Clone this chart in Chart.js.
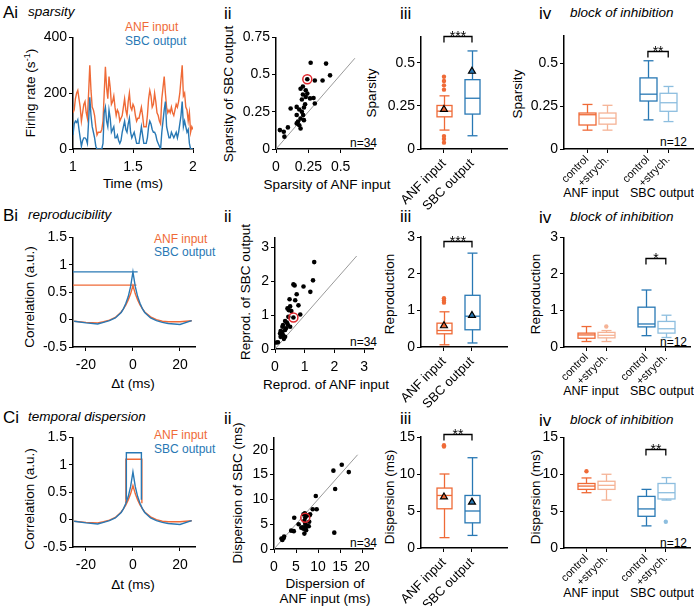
<!DOCTYPE html>
<html>
<head>
<meta charset="utf-8">
<script src="https://cdn.jsdelivr.net/npm/chart.js@4/dist/chart.umd.min.js"></script>
<style>
  body { margin: 0; background: #fff; width: 694px; height: 608px; position: relative; overflow: hidden;
         font-family: 'Liberation Sans', Arial, sans-serif; color: #000; }
  canvas { position: absolute; }
  .t { position: absolute; white-space: nowrap; line-height: 1; transform: translateY(-50%); }
  .c { transform: translate(-50%, -50%); }
  .yt { position: absolute; white-space: nowrap; line-height: 1; font-size: 13.5px; transform: translate(-50%, -50%) rotate(-90deg); }
  .xt { position: absolute; white-space: nowrap; line-height: 1; font-size: 13.5px; transform: translate(-50%, -50%); }
  .big { font-size: 17px; }
  .it { font-size: 13.5px; font-style: italic; }
  .lg { font-size: 12px; }
  .n { font-size: 12px; }
  .grp { font-size: 12.5px; }
  sup { font-size: 9px; vertical-align: 5px; }
</style>
</head>
<body>
<!-- panel headers -->
<div class="t big" style="left:3px;top:12px">Ai</div><div class="t it" style="left:28px;top:12px">sparsity</div>
<div class="t big" style="left:224px;top:13px">ii</div>
<div class="t big" style="left:400px;top:13px">iii</div>
<div class="t big" style="left:539px;top:13px">iv</div><div class="t it" style="left:570px;top:13px">block of inhibition</div>

<div class="t big" style="left:3px;top:215px">Bi</div><div class="t it" style="left:28px;top:215px">reproducibility</div>
<div class="t big" style="left:224px;top:216px">ii</div>
<div class="t big" style="left:400px;top:216px">iii</div>
<div class="t big" style="left:539px;top:217px">iv</div><div class="t it" style="left:570px;top:217px">block of inhibition</div>

<div class="t big" style="left:3px;top:417px">Ci</div><div class="t it" style="left:28px;top:417px">temporal dispersion</div>
<div class="t big" style="left:224px;top:418px">ii</div>
<div class="t big" style="left:400px;top:418px">iii</div>
<div class="t big" style="left:539px;top:420px">iv</div><div class="t it" style="left:570px;top:420px">block of inhibition</div>

<!-- axis titles -->
<div class="yt" style="left:30px;top:93px">Firing rate (s<sup>-1</sup>)</div>
<div class="xt" style="left:133px;top:184px">Time (ms)</div>
<div class="yt" style="left:229px;top:94px">Sparsity of SBC output</div>
<div class="xt" style="left:327px;top:185px">Sparsity of ANF input</div>
<div class="yt" style="left:372px;top:93px">Sparsity</div>
<div class="yt" style="left:518px;top:94px">Sparsity</div>

<div class="yt" style="left:30px;top:297px">Correlation (a.u.)</div>
<div class="xt" style="left:133px;top:384px">&Delta;t (ms)</div>
<div class="yt" style="left:246px;top:292px">Reprod. of SBC output</div>
<div class="xt" style="left:326px;top:385px">Reprod. of ANF input</div>
<div class="yt" style="left:390px;top:294px">Reproduction</div>
<div class="yt" style="left:536px;top:294px">Reproduction</div>

<div class="yt" style="left:30px;top:499px">Correlation (a.u.)</div>
<div class="xt" style="left:133px;top:585px">&Delta;t (ms)</div>
<div class="yt" style="left:238px;top:493px">Dispersion of SBC (ms)</div>
<div class="xt" style="left:325px;top:584px">Dispersion of</div>
<div class="xt" style="left:325px;top:599px">ANF input (ms)</div>
<div class="yt" style="left:390px;top:497px">Dispersion (ms)</div>
<div class="yt" style="left:536px;top:497px">Dispersion (ms)</div>

<!-- legends -->
<div class="t lg" style="left:125px;top:27px;color:#EF6A37">ANF input</div>
<div class="t lg" style="left:125px;top:41px;color:#2878B4">SBC output</div>
<div class="t lg" style="left:154px;top:239px;color:#EF6A37">ANF input</div>
<div class="t lg" style="left:154px;top:252px;color:#2878B4">SBC output</div>
<div class="t lg" style="left:154px;top:435px;color:#EF6A37">ANF input</div>
<div class="t lg" style="left:154px;top:449px;color:#2878B4">SBC output</div>

<!-- n labels -->
<div class="t n" style="left:350px;top:143px">n=34</div>
<div class="t n" style="left:350px;top:342px">n=34</div>
<div class="t n" style="left:350px;top:543px">n=34</div>
<div class="t n" style="left:660px;top:142px">n=12</div>
<div class="t n" style="left:660px;top:342px">n=12</div>
<div class="t n" style="left:660px;top:543px">n=12</div>

<!-- group labels -->
<div class="t c grp" style="left:591px;top:193px">ANF input</div>
<div class="t c grp" style="left:662px;top:193px">SBC output</div>
<div class="t c grp" style="left:591px;top:391px">ANF input</div>
<div class="t c grp" style="left:662px;top:391px">SBC output</div>
<div class="t c grp" style="left:591px;top:593px">ANF input</div>
<div class="t c grp" style="left:662px;top:593px">SBC output</div>

<script>
// ---------- data ----------
// Ai: firing rate traces
const aiTime = [1.00,1.01,1.02,1.03,1.04,1.05,1.06,1.07,1.08,1.09,
  1.10,1.11,1.12,1.13,1.14,1.15,1.16,1.17,1.18,1.19,
  1.20,1.21,1.22,1.23,1.24,1.25,1.26,1.27,1.28,1.29,
  1.30,1.31,1.32,1.33,1.34,1.35,1.36,1.37,1.38,1.39,
  1.40,1.41,1.42,1.43,1.44,1.45,1.46,1.47,1.48,1.49,
  1.50,1.51,1.52,1.53,1.54,1.55,1.56,1.57,1.58,1.59,
  1.60,1.61,1.62,1.63,1.64,1.65,1.66,1.67,1.68,1.69,
  1.70,1.71,1.72,1.73,1.74,1.75,1.76,1.77,1.78,1.79,
  1.80,1.81,1.82,1.83,1.84,1.85,1.86,1.87,1.88,1.89,
  1.90,1.91,1.92,1.93,1.94,1.95,1.96,1.97,1.98,1.99,2.00];
const aiAnf = [130,140,180,200,210,180,150,100,130,160,
  170,130,110,200,300,210,150,140,120,80,
  50,60,60,60,70,100,200,295,220,180,
  260,220,160,170,190,150,120,140,130,100,
  110,120,150,180,140,120,170,200,150,140,
  160,150,120,100,110,110,130,150,120,80,
  80,80,120,180,210,190,150,160,200,170,
  130,120,100,90,180,220,260,200,150,130,
  140,130,150,130,120,140,160,150,170,200,
  250,300,190,200,150,140,100,130,60,80,70];
const aiSbc = [50,90,100,95,105,70,40,10,30,40,
  40,35,20,100,185,120,80,60,40,10,
  0,0,0,0,0,20,130,150,100,80,
  140,110,60,70,80,40,40,50,30,20,
  30,60,80,100,70,60,90,110,60,40,
  50,60,40,20,20,20,50,80,50,20,
  20,20,40,80,100,90,70,60,60,50,
  30,20,10,0,60,100,140,170,80,60,
  40,40,60,50,40,50,60,40,60,90,
  120,170,80,100,80,60,70,20,0,0,0];
const aiAnfMean = 110;
const aiSbcMean = 39;
const aiXTicks = [1, 1.5, 2];
const aiYTicks = [0, 200, 400];

// Aii: sparsity scatter
const aiiAnf = [0.268,0.387,0.418,0.30,0.36,0.242,0.208,0.19,0.23,0.242,0.208,0.23,0.263,0.29,0.20,0.30,0.113,
  0.16,0.18,0.216,0.20,0.16,0.21,0.19,0.216,0.16,0.18,0.19,0.092,0.03,0.06,0.065,0.17,0.225];
const aiiSbc = [0.58,0.574,0.495,0.46,0.46,0.469,0.42,0.405,0.395,0.373,0.366,0.35,0.34,0.343,0.333,0.306,0.272,
  0.283,0.265,0.279,0.25,0.228,0.228,0.205,0.194,0.172,0.16,0.138,0.145,0.127,0.116,0.083,0.185,0.30];
const aiiHighlight = [0.242, 0.469];
const aiiXTicks = [0, 0.25, 0.5];
const aiiYTicks = [0, 0.25, 0.5, 0.75];

// Aiii / Aiv: sparsity box plots
const cat2 = ['ANF input', 'SBC output'];
const cat4 = ['control', '+strych.', 'control', '+strych.'];
const aiiiLow = [0.11, 0.077], aiiiQ1 = [0.187, 0.203], aiiiMed = [0.22, 0.295], aiiiQ3 = [0.253, 0.403], aiiiHigh = [0.309, 0.57];
const aiiiMean = [0.23, 0.452];
const aiiiAnfOut = [0.42, 0.395, 0.37, 0.345, 0.075, 0.058, 0.037];
const aiiiTicks = [0, 0.25, 0.5];
const aivLow = [0.11, 0.11, 0.17, 0.16], aivQ1 = [0.14, 0.145, 0.28, 0.22], aivMed = [0.2, 0.18, 0.32, 0.27];
const aivQ3 = [0.21, 0.21, 0.415, 0.325], aivHigh = [0.26, 0.255, 0.515, 0.365];

// Bi / Ci: correlograms
const lags = [-25,-20,-15,-12.5,-10,-7.5,-5,-4,-3,-2,-1,0,1,2,3,4,5,7.5,10,12.5,15,20,25];
const corrAnf = [-0.03,-0.05,-0.06,-0.04,-0.01,0.04,0.14,0.2,0.27,0.36,0.47,0.62,0.47,0.36,0.27,0.2,0.14,0.05,0.0,-0.03,-0.04,-0.04,-0.02];
const corrSbc = [-0.03,-0.06,-0.08,-0.05,-0.02,0.03,0.13,0.2,0.3,0.42,0.6,0.87,0.6,0.42,0.3,0.2,0.13,0.03,-0.02,-0.05,-0.07,-0.09,-0.02];
const biAnfPeak = 0.63, biSbcPeak = 0.87;
const ciAnfRectX = [-3.0, -3.0, 3.8, 3.8], ciAnfRectY = [0.3, 1.1, 1.1, 0.3];
const ciSbcRectX = [-2.8, -2.8, 3.6, 3.6], ciSbcRectY = [0.36, 1.22, 1.22, 0.36];
const lagTicks = [-20, 0, 20];
const corrTicks = [-0.5, 0, 0.5, 1, 1.5];

// Bii: reproducibility scatter
const biiAnf = [1.32,1.28,1.19,0.96,0.62,0.66,0.73,0.49,0.68,0.79,0.51,0.42,0.46,0.85,0.62,0.45,0.34,
  0.40,0.27,0.25,0.37,0.19,0.25,0.34,0.17,0.27,0.34,0.19,0.05,0.10,0.51,0.30,0.55,0.43];
const biiSbc = [2.57,2.03,1.69,1.85,1.91,1.88,1.62,1.47,1.44,1.29,1.26,1.20,1.15,1.02,0.93,0.95,0.83,
  0.78,0.71,0.66,0.61,0.53,0.51,0.56,0.46,0.41,0.36,0.36,0.19,0.20,0.66,0.30,1.12,0.72];
const biiHighlight = [0.62, 0.93];
const biiTicks = [0, 1, 2, 3];

// Biii / Biv: reproduction box plots
const biiiLow = [0.06, 0.11], biiiQ1 = [0.36, 0.47], biiiMed = [0.45, 0.84], biiiQ3 = [0.65, 1.41], biiiHigh = [0.96, 2.56];
const biiiMean = [0.58, 0.86];
const biiiAnfOut = [1.33, 1.27, 1.21];
const bivLow = [0.15, 0.15, 0.31, 0.26], bivQ1 = [0.24, 0.25, 0.55, 0.38], bivMed = [0.33, 0.32, 0.63, 0.5];
const bivQ3 = [0.38, 0.40, 1.09, 0.70], bivHigh = [0.56, 0.45, 1.56, 0.87];
const bivStrychAnfOut = [0.56];

// Cii: dispersion scatter
const ciiAnf = [13.5,15.4,17.0,13.9,9.5,8.8,9.7,6.7,7.4,8.1,7.1,4.6,5.6,4.5,3.9,6.2,6.7,7.3,7.6,7.9,6.9,7.3,7.1,
  1.7,2.3,1.9,13.7,6.9,8.0,2.2,7.4,6.6,8.2,7.0];
const ciiSbc = [15.8,17.0,15.5,12.1,10.7,8.0,8.0,7.0,6.7,6.8,6.3,6.3,5.0,3.6,3.7,4.3,4.1,4.5,4.7,4.6,3.1,3.8,5.1,
  2.1,2.5,1.8,3.3,5.7,5.5,2.2,6.8,4.4,7.0,7.2];
const ciiHighlight = [7.1, 6.3];
const ciiTicks = [0, 5, 10, 15, 20];

// Ciii / Civ: dispersion box plots
const ciiiLow = [1.4, 1.7], ciiiQ1 = [5.3, 3.4], ciiiMed = [7.1, 5.0], ciiiQ3 = [8.1, 7.1], ciiiHigh = [10.0, 12.2];
const ciiiMean = [6.9, 6.2];
const ciiiAnfOut = [13.9, 13.7];
const civLow = [7.5, 6.5, 3.0, 6.5], civQ1 = [7.95, 7.95, 4.3, 6.65], civMed = [8.4, 8.5, 5.3, 7.5];
const civQ3 = [8.75, 9.05, 7.0, 8.75], civHigh = [9.5, 10.0, 7.95, 9.55];
const civControlAnfOut = [10.4];
const civStrychSbcOut = [3.55];
const dispTicks = [0, 5, 10, 15];

const pos2 = [1, 2];
const pos4 = [1, 2, 4, 5];

// ---------- style ----------
const FONT = "'Liberation Sans', Arial, sans-serif";
const ORANGE = '#EF6A37', BLUE = '#2878B4', LORANGE = '#F5B396', LBLUE = '#8DBEDF';
Chart.defaults.font.family = FONT;
Chart.defaults.color = '#000';

// box plot drawing through the chart scales
const boxPlugin = {
  id: 'boxes',
  beforeDatasetsDraw(chart, args, o) {
    if (!o.items) return;
    const { ctx, scales: { x, y } } = chart;
    ctx.save();
    ctx.lineWidth = 1.3;
    const seg = (x1, y1, x2, y2) => { ctx.beginPath(); ctx.moveTo(x1, y1); ctx.lineTo(x2, y2); ctx.stroke(); };
    o.items.forEach(b => {
      const px = Math.round(x.getPixelForValue(b.x)) + 0.5;
      const hw = o.boxWidth / 2, cw = o.capWidth / 2;
      const lo = y.getPixelForValue(b.lo), q1 = y.getPixelForValue(b.q1), md = y.getPixelForValue(b.med);
      const q3 = y.getPixelForValue(b.q3), hi = y.getPixelForValue(b.hi);
      ctx.strokeStyle = b.color;
      ctx.strokeRect(px - hw, q3, 2 * hw, q1 - q3);
      seg(px - hw, md, px + hw, md);
      seg(px, q3, px, hi); seg(px - cw, hi, px + cw, hi);
      seg(px, q1, px, lo); seg(px - cw, lo, px + cw, lo);
    });
    ctx.restore();
  }
};
// significance bracket
const sigPlugin = {
  id: 'sig',
  afterDraw(chart, args, o) {
    if (!o.text) return;
    const { ctx, scales: { x, y } } = chart;
    const x1 = x.getPixelForValue(o.x1), x2 = x.getPixelForValue(o.x2), y0 = Math.round(y.getPixelForValue(o.y)) + 0.5;
    ctx.save();
    ctx.strokeStyle = '#000'; ctx.lineWidth = 1.3;
    ctx.beginPath(); ctx.moveTo(x1, y0 + 6); ctx.lineTo(x1, y0); ctx.lineTo(x2, y0); ctx.lineTo(x2, y0 + 6); ctx.stroke();
    ctx.fillStyle = '#000'; ctx.font = '14px ' + FONT; ctx.textAlign = 'center'; ctx.textBaseline = 'alphabetic';
    ctx.fillText(o.text, (x1 + x2) / 2, y0 + 4);
    ctx.restore();
  }
};
Chart.register(boxPlugin, sigPlugin);

function axis(min, max, ticks, o = {}) {
  return {
    type: 'linear', min, max,
    afterBuildTicks: s => { s.ticks = ticks.map(v => ({ value: v })); },
    border: { display: true, color: '#000', width: 1.5 },
    grid: { display: true, drawOnChartArea: false, drawTicks: true, tickLength: 4, color: '#000', lineWidth: 1 },
    ticks: {
      color: '#000', font: { size: o.size || 14 }, padding: o.pad === undefined ? 2 : o.pad, autoSkip: false,
      maxRotation: o.rot || 0, minRotation: o.rot || 0,
      callback: o.labels ? (v => o.labels[ticks.indexOf(v)]) : (v => String(v))
    },
    title: { display: false }
  };
}

function mk(plot, yW, xH, padT, padR, config) {
  const cv = document.createElement('canvas');
  const w = yW + plot.r - plot.l + padR, h = padT + plot.b - plot.t + xH;
  cv.width = w; cv.height = h;
  cv.style.left = (plot.l - yW) + 'px';
  cv.style.top = (plot.t - padT) + 'px';
  document.body.appendChild(cv);
  config.options.scales.y.afterFit = s => { s.width = yW; };
  config.options.scales.x.afterFit = s => { s.height = xH; };
  config.options.responsive = false;
  config.options.animation = false;
  config.options.layout = { padding: { top: padT, right: padR, left: 0, bottom: 0 } };
  config.options.plugins = Object.assign({ legend: { display: false }, tooltip: { enabled: false } }, config.options.plugins || {});
  return new Chart(cv, config);
}

const pts = (xs, ys) => xs.map((v, i) => ({ x: v, y: ys[i] }));
const lineDs = (data, color, w) => ({ data, showLine: true, borderColor: color, borderWidth: w || 1.4, pointRadius: 0, fill: false });
const dotDs = (data) => ({ data, pointRadius: 2.3, pointBackgroundColor: '#000', pointBorderWidth: 0 });
const ringDs = (p) => ({ data: [{ x: p[0], y: p[1] }], pointRadius: 4.5, pointBackgroundColor: 'rgba(0,0,0,0)', pointBorderColor: '#E0282E', pointBorderWidth: 1.5 });
const diagDs = (end) => ({ data: [{ x: 0, y: 0 }, { x: end, y: end }], showLine: true, borderColor: '#9a9a9a', borderWidth: 1, pointRadius: 0 });
const outDs = (xv, vals, color) => ({ data: vals.map(v => ({ x: xv, y: v })), pointRadius: 2.2, pointBackgroundColor: color, pointBorderWidth: 0 });
const meanDs = (xv, v, color) => ({ data: [{ x: xv, y: v }], pointStyle: 'triangle', pointRadius: 4, pointBackgroundColor: color, pointBorderColor: '#000', pointBorderWidth: 1.2 });
const boxItems = (xs, lo, q1, md, q3, hi, colors) => xs.map((x, i) => ({ x, lo: lo[i], q1: q1[i], med: md[i], q3: q3[i], hi: hi[i], color: colors[i] }));

// ---------- Row A ----------
mk({ l: 73, r: 193, t: 37, b: 149 }, 51, 26, 10, 14, {
  type: 'scatter',
  data: { datasets: [
    lineDs(pts(aiTime, aiSbc), BLUE, 1.4),
    lineDs(pts(aiTime, aiAnf), ORANGE, 1.4),
    { data: [{ x: 2.06, y: aiAnfMean }], pointStyle: 'line', pointRadius: 3.5, pointBorderColor: ORANGE, pointBorderWidth: 3, clip: false },
    { data: [{ x: 2.06, y: aiSbcMean }], pointStyle: 'line', pointRadius: 3.5, pointBorderColor: BLUE, pointBorderWidth: 3, clip: false }
  ] },
  options: { scales: {
    x: axis(1, 2, aiXTicks, { pad: 6 }),
    y: axis(0, 400, aiYTicks)
  } }
});

mk({ l: 276, r: 373, t: 37, b: 149 }, 40, 26, 10, 6, {
  type: 'scatter',
  data: { datasets: [ringDs(aiiHighlight), dotDs(pts(aiiAnf, aiiSbc)), diagDs(0.61)] },
  options: { scales: {
    x: axis(0, 0.75, aiiXTicks, { pad: 6 }),
    y: axis(0, 0.75, aiiYTicks)
  } }
});

mk({ l: 421, r: 507, t: 37, b: 149 }, 40, 64, 12, 6, {
  type: 'scatter',
  data: { datasets: [
    meanDs(1, aiiiMean[0], ORANGE), meanDs(2, aiiiMean[1], BLUE),
    outDs(1, aiiiAnfOut, ORANGE)
  ] },
  options: {
    scales: {
      x: axis(0.18, 3.25, pos2, { labels: cat2, rot: 45, size: 13, pad: 3 }),
      y: axis(0, 0.651, aiiiTicks)
    },
    plugins: {
      boxes: { boxWidth: 15, capWidth: 10, items: boxItems(pos2, aiiiLow, aiiiQ1, aiiiMed, aiiiQ3, aiiiHigh, [ORANGE, BLUE]) },
      sig: { x1: 1, x2: 2, y: 0.659, text: '***' }
    }
  }
});

mk({ l: 564, r: 693, t: 35, b: 149 }, 38, 38, 10, 1, {
  type: 'scatter',
  data: { datasets: [] },
  options: {
    scales: {
      x: axis(-0.133, 6.22, pos4, { labels: cat4, rot: 45, size: 11, pad: 0 }),
      y: axis(0, 0.663, aiiiTicks)
    },
    plugins: {
      boxes: { boxWidth: 17, capWidth: 10, items: boxItems(pos4, aivLow, aivQ1, aivMed, aivQ3, aivHigh, [ORANGE, LORANGE, BLUE, LBLUE]) },
      sig: { x1: 4, x2: 5, y: 0.571, text: '**' }
    }
  }
});

// ---------- Row B ----------
mk({ l: 73, r: 195, t: 237, b: 347 }, 40, 26, 10, 6, {
  type: 'scatter',
  data: { datasets: [
    lineDs([{ x: -25.5, y: biSbcPeak }, { x: 2, y: biSbcPeak }], BLUE, 1.4),
    lineDs(pts(lags, corrSbc), BLUE, 1.4),
    lineDs([{ x: -25.5, y: biAnfPeak }, { x: 1.5, y: biAnfPeak }], ORANGE, 1.4),
    lineDs(pts(lags, corrAnf), ORANGE, 1.4)
  ] },
  options: { scales: {
    x: axis(-25.5, 26.4, lagTicks, { pad: 6 }),
    y: axis(-0.5, 1.5, corrTicks)
  } }
});

mk({ l: 275, r: 373, t: 237, b: 349 }, 30, 26, 10, 6, {
  type: 'scatter',
  data: { datasets: [ringDs(biiHighlight), dotDs(pts(biiAnf, biiSbc)), diagDs(2.75)] },
  options: { scales: {
    x: axis(0, 3.3, biiTicks, { pad: 6 }),
    y: axis(0, 3.3, biiTicks)
  } }
});

mk({ l: 421, r: 507, t: 237, b: 347 }, 30, 62, 12, 6, {
  type: 'scatter',
  data: { datasets: [
    meanDs(1, biiiMean[0], ORANGE), meanDs(2, biiiMean[1], BLUE),
    outDs(1, biiiAnfOut, ORANGE)
  ] },
  options: {
    scales: {
      x: axis(0.18, 3.25, pos2, { labels: cat2, rot: 45, size: 13, pad: 3 }),
      y: axis(0, 3, biiTicks)
    },
    plugins: {
      boxes: { boxWidth: 15, capWidth: 10, items: boxItems(pos2, biiiLow, biiiQ1, biiiMed, biiiQ3, biiiHigh, [ORANGE, BLUE]) },
      sig: { x1: 1, x2: 2, y: 2.88, text: '***' }
    }
  }
});

mk({ l: 564, r: 693, t: 237, b: 347 }, 26, 38, 10, 1, {
  type: 'scatter',
  data: { datasets: [outDs(2, bivStrychAnfOut, LORANGE)] },
  options: {
    scales: {
      x: axis(-0.133, 6.22, pos4, { labels: cat4, rot: 45, size: 11, pad: 0 }),
      y: axis(0, 3, biiTicks)
    },
    plugins: {
      boxes: { boxWidth: 17, capWidth: 10, items: boxItems(pos4, bivLow, bivQ1, bivMed, bivQ3, bivHigh, [ORANGE, LORANGE, BLUE, LBLUE]) },
      sig: { x1: 4, x2: 5, y: 2.44, text: '*' }
    }
  }
});

// ---------- Row C ----------
mk({ l: 73, r: 195, t: 437, b: 547 }, 40, 26, 10, 6, {
  type: 'scatter',
  data: { datasets: [
    lineDs(pts(ciSbcRectX, ciSbcRectY), BLUE, 1.4),
    lineDs(pts(lags, corrSbc), BLUE, 1.4),
    lineDs(pts(ciAnfRectX, ciAnfRectY), ORANGE, 1.4),
    lineDs(pts(lags, corrAnf), ORANGE, 1.4)
  ] },
  options: { scales: {
    x: axis(-25.5, 26.4, lagTicks, { pad: 6 }),
    y: axis(-0.5, 1.5, corrTicks)
  } }
});

mk({ l: 274, r: 373, t: 437, b: 549 }, 30, 26, 10, 6, {
  type: 'scatter',
  data: { datasets: [ringDs(ciiHighlight), dotDs(pts(ciiAnf, ciiSbc)), diagDs(19)] },
  options: { scales: {
    x: axis(0, 22.5, ciiTicks, { pad: 6 }),
    y: axis(0, 22.5, ciiTicks)
  } }
});

mk({ l: 421, r: 507, t: 437, b: 548 }, 30, 58, 12, 6, {
  type: 'scatter',
  data: { datasets: [
    meanDs(1, ciiiMean[0], ORANGE), meanDs(2, ciiiMean[1], BLUE),
    outDs(1, ciiiAnfOut, ORANGE)
  ] },
  options: {
    scales: {
      x: axis(0.18, 3.25, pos2, { labels: cat2, rot: 45, size: 13, pad: 3 }),
      y: axis(0, 15, dispTicks)
    },
    plugins: {
      boxes: { boxWidth: 15, capWidth: 10, items: boxItems(pos2, ciiiLow, ciiiQ1, ciiiMed, ciiiQ3, ciiiHigh, [ORANGE, BLUE]) },
      sig: { x1: 1, x2: 2, y: 15.4, text: '**' }
    }
  }
});

mk({ l: 564, r: 693, t: 437, b: 548 }, 26, 38, 10, 1, {
  type: 'scatter',
  data: { datasets: [outDs(1, civControlAnfOut, ORANGE), outDs(5, civStrychSbcOut, LBLUE)] },
  options: {
    scales: {
      x: axis(-0.133, 6.22, pos4, { labels: cat4, rot: 45, size: 11, pad: 0 }),
      y: axis(0, 15, dispTicks)
    },
    plugins: {
      boxes: { boxWidth: 17, capWidth: 10, items: boxItems(pos4, civLow, civQ1, civMed, civQ3, civHigh, [ORANGE, LORANGE, BLUE, LBLUE]) },
      sig: { x1: 4, x2: 5, y: 13.4, text: '**' }
    }
  }
});
</script>
</body>
</html>
